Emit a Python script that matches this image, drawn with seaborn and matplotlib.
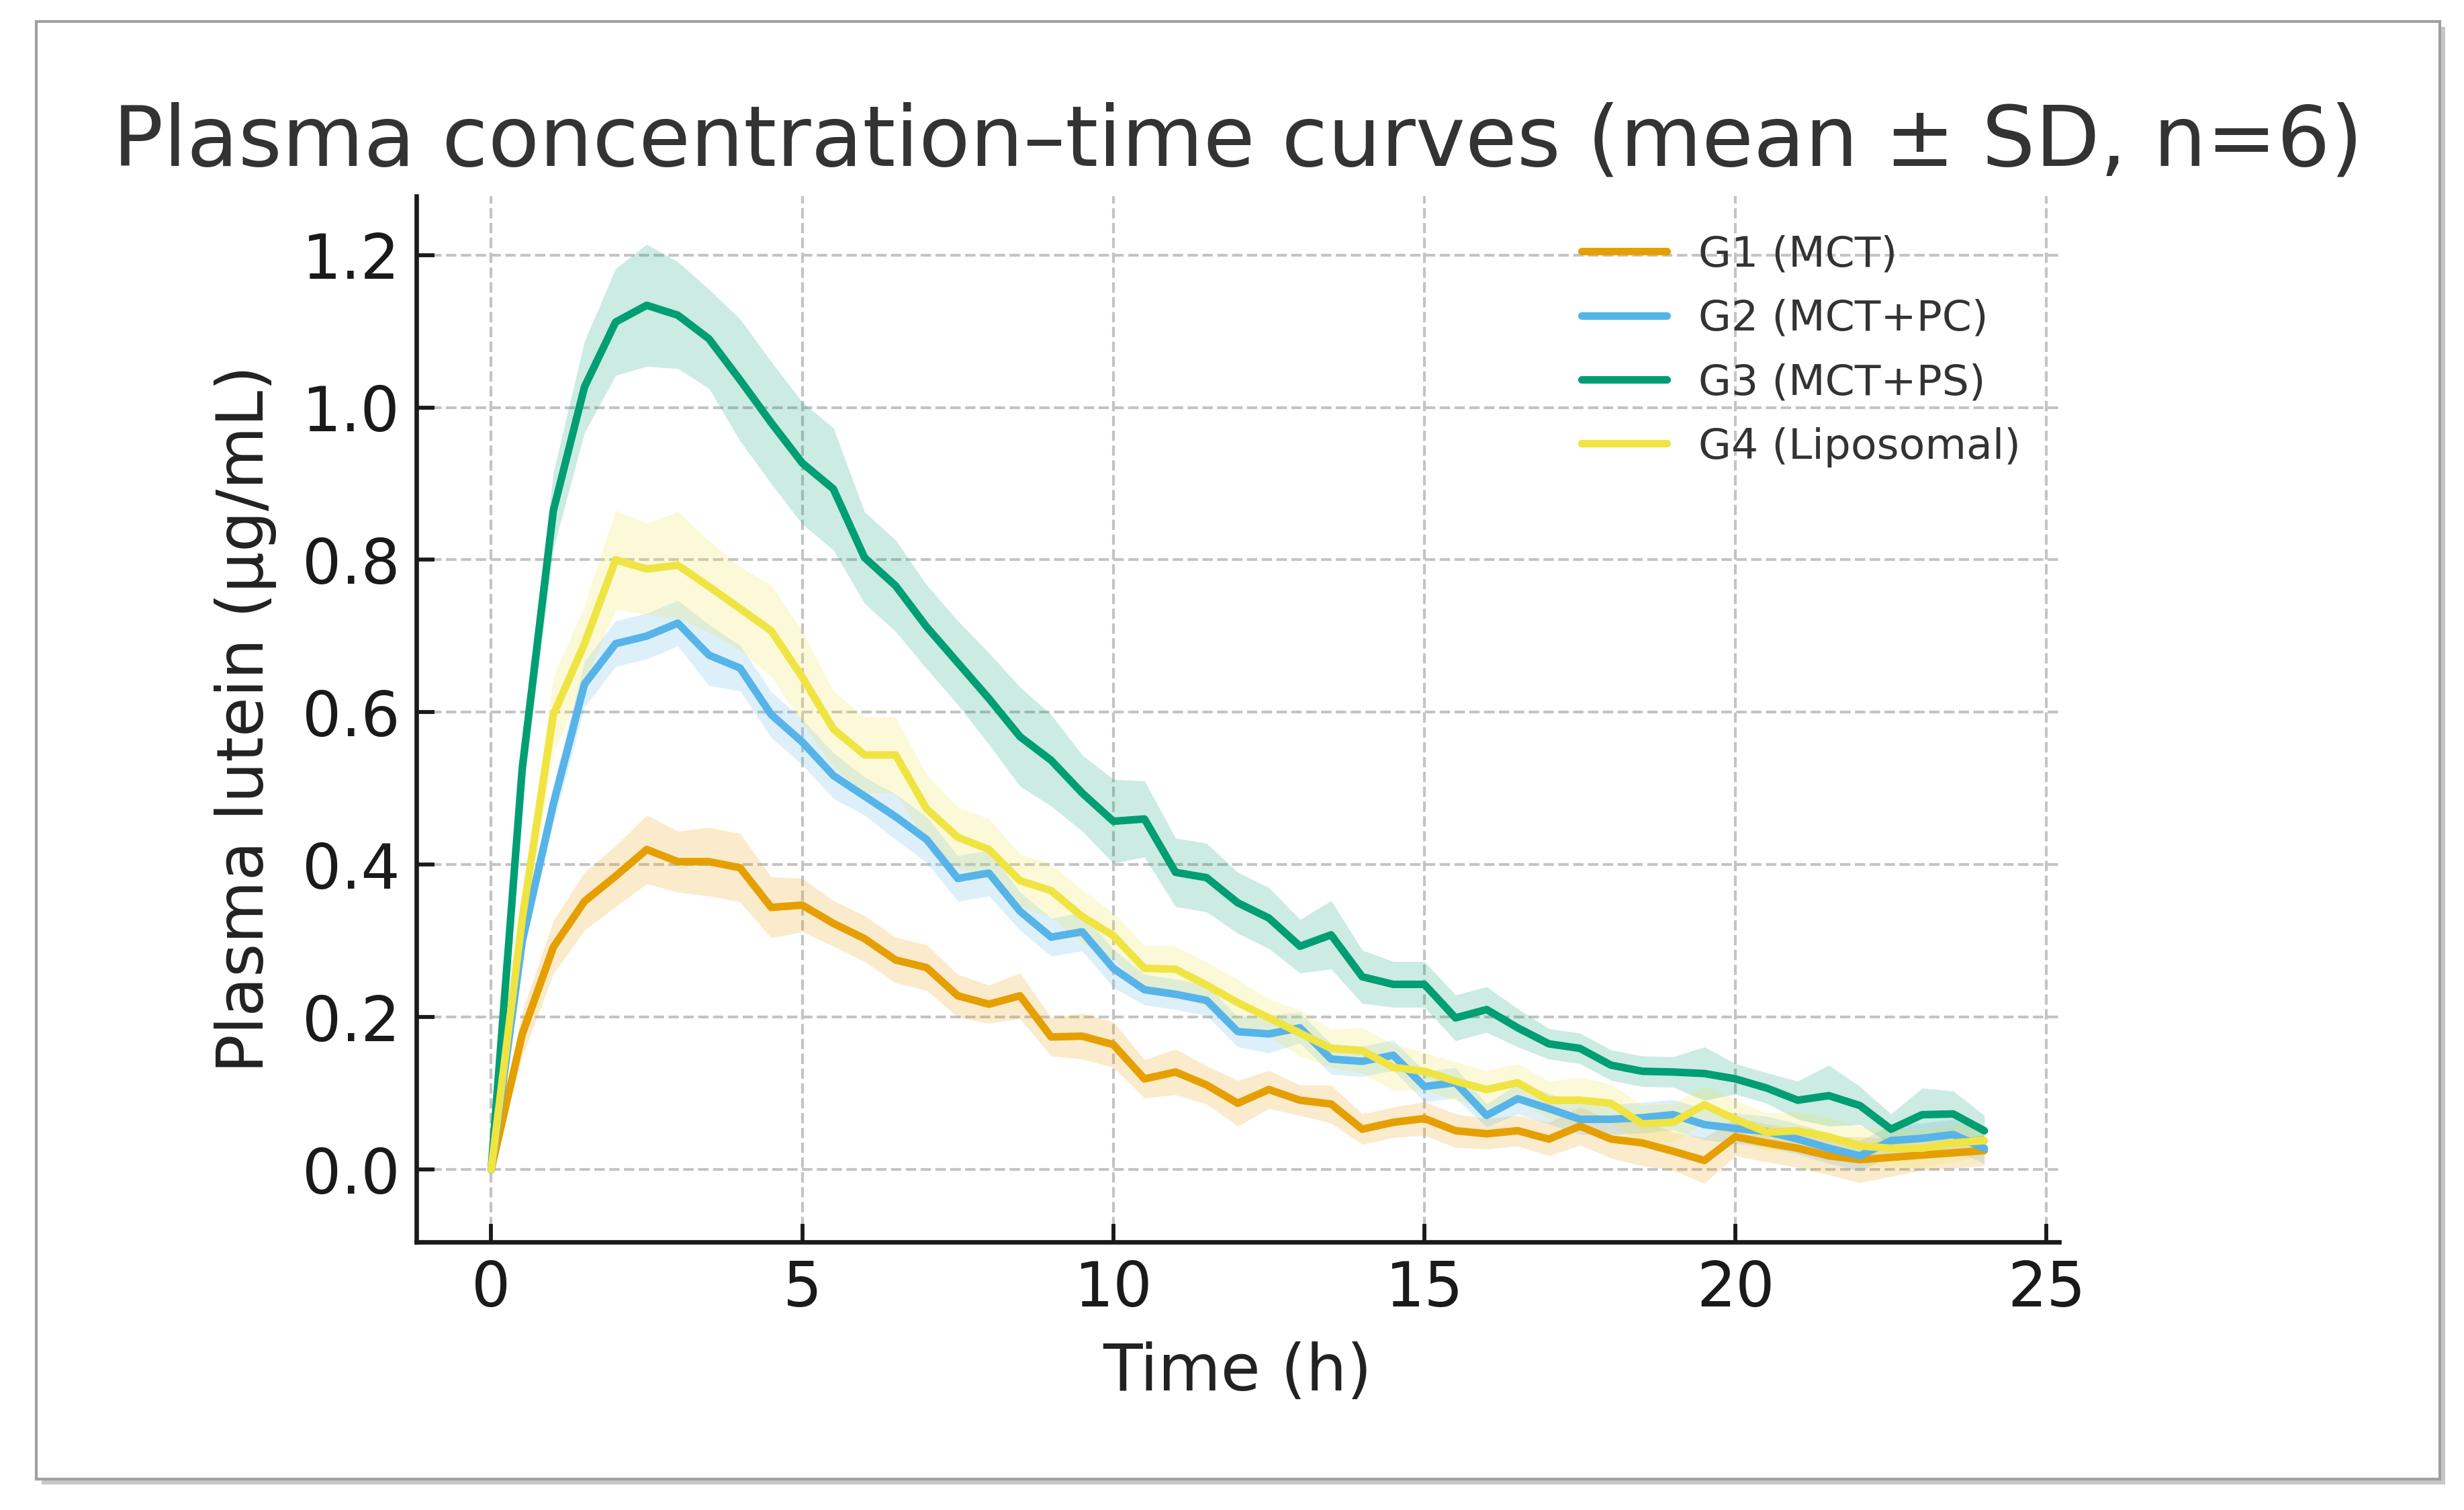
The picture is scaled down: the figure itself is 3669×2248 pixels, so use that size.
"""Plasma lutein concentration-time curves, mean +/- SD for four formulations."""
import matplotlib
matplotlib.use("Agg")
import matplotlib.pyplot as plt
import matplotlib.patheffects as pe
from matplotlib.patches import Rectangle
import numpy as np
import pandas as pd
import seaborn as sns

# sampling times (h)
time_h = np.arange(0, 24.5, 0.5)

groups = ["G1 (MCT)", "G2 (MCT+PC)", "G3 (MCT+PS)", "G4 (Liposomal)"]
colors = ["#E69F00", "#56B4E9", "#009E73", "#F0E442"]

g1_mean = [0.000, 0.178, 0.292, 0.352, 0.385, 0.420, 0.404, 0.404, 0.396, 0.344,
           0.347, 0.323, 0.303, 0.275, 0.265, 0.228, 0.217, 0.228, 0.174, 0.175,
           0.164, 0.119, 0.128, 0.111, 0.087, 0.105, 0.091, 0.086, 0.053, 0.062,
           0.067, 0.051, 0.047, 0.051, 0.040, 0.057, 0.040, 0.035, 0.024, 0.012,
           0.043, 0.035, 0.028, 0.018, 0.013, 0.016, 0.019, 0.022, 0.025]
g1_sd = [0.000, 0.030, 0.035, 0.038, 0.040, 0.045, 0.040, 0.045, 0.045, 0.040,
         0.035, 0.030, 0.030, 0.030, 0.030, 0.028, 0.025, 0.030, 0.025, 0.030,
         0.030, 0.025, 0.030, 0.025, 0.030, 0.025, 0.020, 0.025, 0.020, 0.020,
         0.022, 0.022, 0.020, 0.020, 0.022, 0.025, 0.025, 0.030, 0.025, 0.030,
         0.025, 0.025, 0.025, 0.025, 0.030, 0.025, 0.020, 0.020, 0.020]

g2_mean = [0.000, 0.300, 0.480, 0.637, 0.690, 0.700, 0.717, 0.675, 0.658, 0.597,
           0.561, 0.517, 0.490, 0.463, 0.433, 0.382, 0.389, 0.339, 0.305, 0.312,
           0.264, 0.236, 0.230, 0.222, 0.181, 0.178, 0.186, 0.145, 0.142, 0.150,
           0.109, 0.114, 0.071, 0.093, 0.080, 0.066, 0.066, 0.068, 0.072, 0.059,
           0.054, 0.050, 0.040, 0.028, 0.018, 0.038, 0.041, 0.046, 0.028]
g2_sd = [0.000, 0.020, 0.025, 0.030, 0.030, 0.030, 0.030, 0.040, 0.030, 0.030,
         0.030, 0.030, 0.025, 0.030, 0.030, 0.030, 0.030, 0.025, 0.025, 0.025,
         0.025, 0.020, 0.020, 0.020, 0.020, 0.025, 0.020, 0.020, 0.020, 0.020,
         0.020, 0.020, 0.015, 0.020, 0.020, 0.020, 0.020, 0.020, 0.020, 0.020,
         0.020, 0.020, 0.020, 0.020, 0.020, 0.020, 0.020, 0.020, 0.020]

g3_mean = [0.000, 0.527, 0.865, 1.027, 1.112, 1.134, 1.121, 1.090, 1.036, 0.980,
           0.927, 0.893, 0.803, 0.766, 0.712, 0.665, 0.618, 0.568, 0.537, 0.494,
           0.457, 0.460, 0.390, 0.383, 0.350, 0.330, 0.293, 0.308, 0.253, 0.243,
           0.243, 0.199, 0.210, 0.186, 0.165, 0.159, 0.137, 0.129, 0.128, 0.126,
           0.119, 0.107, 0.091, 0.097, 0.084, 0.053, 0.072, 0.073, 0.051]
g3_sd = [0.000, 0.040, 0.050, 0.060, 0.070, 0.080, 0.070, 0.065, 0.080, 0.080,
         0.080, 0.080, 0.060, 0.060, 0.055, 0.055, 0.060, 0.065, 0.060, 0.050,
         0.055, 0.050, 0.045, 0.045, 0.040, 0.040, 0.035, 0.045, 0.035, 0.030,
         0.030, 0.030, 0.030, 0.025, 0.020, 0.020, 0.020, 0.020, 0.020, 0.035,
         0.020, 0.020, 0.025, 0.040, 0.025, 0.020, 0.035, 0.030, 0.020]

g4_mean = [0.000, 0.330, 0.597, 0.690, 0.800, 0.788, 0.793, 0.765, 0.736, 0.707,
           0.646, 0.578, 0.544, 0.544, 0.473, 0.436, 0.420, 0.379, 0.366, 0.332,
           0.307, 0.264, 0.263, 0.242, 0.219, 0.199, 0.179, 0.159, 0.156, 0.134,
           0.129, 0.116, 0.105, 0.114, 0.091, 0.091, 0.087, 0.060, 0.062, 0.085,
           0.066, 0.049, 0.051, 0.043, 0.031, 0.028, 0.028, 0.035, 0.038]
g4_sd = [0.000, 0.030, 0.050, 0.050, 0.065, 0.060, 0.070, 0.060, 0.055, 0.060,
         0.060, 0.050, 0.050, 0.050, 0.045, 0.040, 0.040, 0.035, 0.035, 0.035,
         0.030, 0.030, 0.030, 0.030, 0.030, 0.025, 0.030, 0.025, 0.030, 0.030,
         0.025, 0.025, 0.025, 0.025, 0.025, 0.030, 0.025, 0.025, 0.025, 0.025,
         0.025, 0.025, 0.025, 0.025, 0.025, 0.025, 0.025, 0.025, 0.020]

means = [g1_mean, g2_mean, g3_mean, g4_mean]
sds = [g1_sd, g2_sd, g3_sd, g4_sd]

df = pd.concat(
    [pd.DataFrame({"time": time_h, "conc": m, "sd": s, "group": g})
     for g, m, s in zip(groups, means, sds)],
    ignore_index=True,
)

sns.set_theme(style="ticks")
plt.rcParams["font.family"] = ["DejaVu Sans"]

fig = plt.figure(figsize=(3670 / 300, 2248 / 300), dpi=300, facecolor="white")

# framed "card" with a soft drop shadow around the whole chart
frame = Rectangle((54 / 3670, 1 - 2202 / 2248), (3633 - 54) / 3670, (2202 - 32) / 2248,
                  transform=fig.transFigure, facecolor="white", edgecolor="#a0a0a0",
                  lw=1.0, zorder=0,
                  path_effects=[pe.SimplePatchShadow(offset=(2.0, -2.0), shadow_rgbFace="#909090",
                                                     alpha=0.5),
                                pe.Normal()])
fig.add_artist(frame)

ax = fig.add_axes([0.169, 0.1775, 0.6664, 0.6925])
ax.patch.set_alpha(0)

palette = dict(zip(groups, colors))
sns.lineplot(data=df, x="time", y="conc", hue="group", palette=palette,
             linewidth=2.7, errorbar=None, ax=ax, zorder=3)
for g in groups:
    sub = df[df["group"] == g]
    ax.fill_between(sub["time"], sub["conc"] - sub["sd"], sub["conc"] + sub["sd"],
                    color=palette[g], alpha=0.2, lw=0, zorder=2)

ax.set_xlim(-1.2, 25.2)
ax.set_ylim(-0.095, 1.277)
ax.set_xticks([0, 5, 10, 15, 20, 25])
ax.set_yticks([0.0, 0.2, 0.4, 0.6, 0.8, 1.0, 1.2])
ax.set_yticklabels([f"{v:.1f}" for v in ax.get_yticks()])

ax.grid(True, ls="--", color="#c4c4c4", lw=1.0)
ax.set_axisbelow(True)
sns.despine(ax=ax)
for side in ("left", "bottom"):
    ax.spines[side].set_linewidth(1.6)
    ax.spines[side].set_color("#1a1a1a")
ax.tick_params(direction="in", length=6.5, width=1.4, labelsize=22,
               colors="#1a1a1a", pad=6)

ax.set_title("Plasma concentration\u2013time curves (mean \u00b1 SD, n=6)",
             fontsize=30.0, color="#333333", pad=11)
ax.set_xlabel("Time (h)", fontsize=23, color="#222222", labelpad=8)
ax.set_ylabel("Plasma lutein (\u03bcg/mL)", fontsize=23, color="#222222", labelpad=9)

handles, labels = ax.get_legend_handles_labels()
leg = ax.legend(handles, labels, loc="upper right", frameon=False, fontsize=15.2,
                labelspacing=0.56, handlelength=2.0, handletextpad=0.75)
for line in leg.get_lines():
    line.set_linewidth(2.7)
for txt in leg.get_texts():
    txt.set_color("#333333")

fig.savefig("out.png", dpi=300, facecolor="white")
